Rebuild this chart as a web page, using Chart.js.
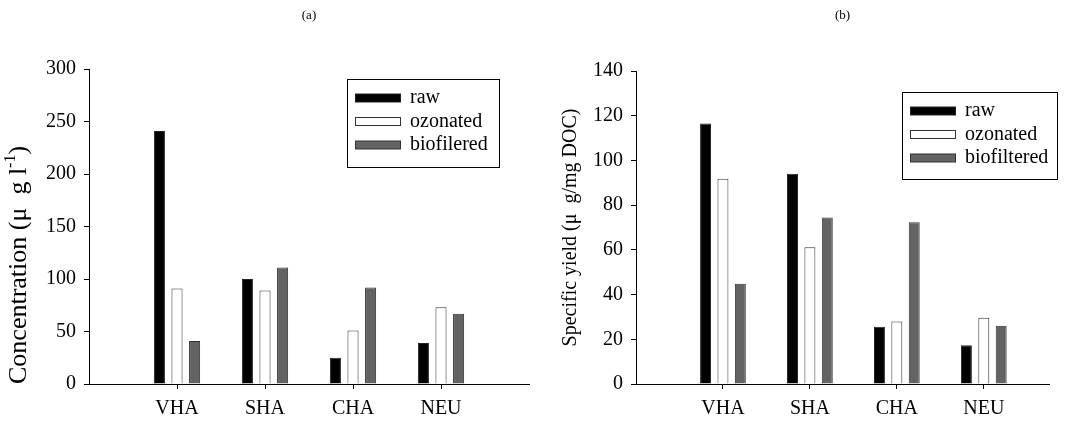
<!DOCTYPE html>
<html>
<head>
<meta charset="utf-8">
<script src="https://cdn.jsdelivr.net/npm/chart.js@4/dist/chart.umd.min.js"></script>
<style>
  html, body { margin: 0; padding: 0; background: #fff; }
  #wrap { position: relative; width: 1067px; height: 425px; }
  canvas { position: absolute; top: 0; }
  #concChart { left: 0; }
  #yieldChart { left: 540px; }
</style>
</head>
<body>
<div id="wrap">
  <canvas id="concChart" width="540" height="425"></canvas>
  <canvas id="yieldChart" width="527" height="425"></canvas>
</div>
<script>
// fractions
const categories = ['VHA', 'SHA', 'CHA', 'NEU'];

// (a) concentration, µg/l
const concLabels = ['raw', 'ozonated', 'biofilered'];
const concRaw = [241, 100, 25, 39];
const concOzonated = [91, 89, 51, 73];
const concBiofiltered = [41, 111, 92, 67];

// (b) specific yield, µg/mg DOC
const yieldLabels = ['raw', 'ozonated', 'biofiltered'];
const yieldRaw = [116.5, 94, 25.6, 17.3];
const yieldOzonated = [91.8, 61.2, 28, 29.6];
const yieldBiofiltered = [44.8, 74.5, 72.4, 26];

const SERIF = '"Liberation Serif", "Times New Roman", serif';
const fills = ['#000000', '#ffffff', '#636363'];
const edges = ['#222222', '#333333', '#333333'];

// panel letter, rotated y title (with optional superscript) and boxed legend
const panelDecor = {
  id: 'panelDecor',
  afterDraw(chart, args, o) {
    const { ctx, chartArea: a } = chart;
    ctx.save();
    ctx.fillStyle = '#000';

    ctx.font = `13px ${SERIF}`;
    ctx.textAlign = 'center';
    ctx.textBaseline = 'middle';
    ctx.fillText(o.panel, (a.left + a.right) / 2, 16);

    // y title
    const big = `${o.yTitleSize}px ${SERIF}`, small = `${Math.round(o.yTitleSize * 0.62)}px ${SERIF}`;
    let total = 0;
    o.yTitle.forEach(p => { ctx.font = p.sup ? small : big; total += ctx.measureText(p.text).width; });
    const start = o.yAlign === 'start' ? a.bottom : (a.top + a.bottom) / 2 + total / 2;
    ctx.save();
    ctx.translate(o.yTitleX, start);
    ctx.rotate(-Math.PI / 2);
    ctx.textAlign = 'left';
    let cx = 0;
    o.yTitle.forEach(p => {
      ctx.font = p.sup ? small : big;
      ctx.fillText(p.text, cx, p.sup ? -o.yTitleSize * 0.32 : 0);
      cx += ctx.measureText(p.text).width;
    });
    ctx.restore();

    // legend
    const L = o.legend;
    ctx.strokeStyle = '#000';
    ctx.lineWidth = 1;
    ctx.strokeRect(L.x + 0.5, L.y + 0.5, L.w, L.h);
    ctx.font = `20px ${SERIF}`;
    ctx.textAlign = 'left';
    chart.data.datasets.forEach((ds, i) => {
      const ry = L.y + 19 + i * 23.5;
      ctx.fillStyle = ds.backgroundColor;
      ctx.fillRect(L.x + 8.5, ry - 4, 45, 8);
      ctx.strokeStyle = ds.borderColor;
      ctx.strokeRect(L.x + 8.5, ry - 4, 45, 8);
      ctx.fillStyle = '#000';
      ctx.fillText(ds.label, L.x + 63, ry);
    });
    ctx.restore();
  }
};

function makeDatasets(labels, series) {
  return series.map((vals, i) => ({
    label: labels[i],
    data: vals.map((v, j) => ({ x: j + 1, y: v })),
    backgroundColor: fills[i],
    borderColor: edges[i],
    borderWidth: 1,
    barPercentage: 0.63,
    categoryPercentage: 0.6
  }));
}

function makeChart(id, cfg) {
  return new Chart(document.getElementById(id), {
    type: 'bar',
    data: { datasets: makeDatasets(cfg.labels, cfg.series) },
    plugins: [panelDecor],
    options: {
      responsive: false,
      animation: false,
      layout: { padding: { top: cfg.top, right: cfg.right, left: 0, bottom: 0 } },
      plugins: {
        legend: { display: false },
        tooltip: { enabled: false },
        panelDecor: cfg.decor
      },
      scales: {
        x: {
          type: 'linear',
          offset: false,
          min: 0,
          max: cfg.xMax,
          afterBuildTicks: s => { s.ticks = categories.map((c, i) => ({ value: i + 1 })); },
          afterFit: s => { s.height = 41; },
          grid: { offset: false, drawOnChartArea: false, drawTicks: true, tickLength: 5, color: '#000' },
          border: { display: true, color: '#000', width: 1 },
          ticks: {
            color: '#000',
            font: { family: SERIF, size: 20 },
            padding: 8,
            maxRotation: 0,
            autoSkip: false,
            callback: v => categories[v - 1] || ''
          }
        },
        y: {
          min: 0,
          max: cfg.yMax,
          afterFit: s => { s.width = cfg.yWidth; },
          grid: { drawOnChartArea: false, drawTicks: true, tickLength: 5, color: '#000' },
          border: { display: true, color: '#000', width: 1 },
          ticks: {
            stepSize: cfg.yStep,
            color: '#000',
            font: { family: SERIF, size: 20 },
            padding: 8
          }
        }
      }
    }
  });
}

makeChart('concChart', {
  labels: concLabels,
  series: [concRaw, concOzonated, concBiofiltered],
  xMax: 5, yMax: 300, yStep: 50,
  top: 69, right: 11, yWidth: 89,
  decor: {
    panel: '(a)',
    yTitle: [{ text: 'Concentration (μ  g l' }, { text: '-1', sup: true }, { text: ')' }],
    yTitleSize: 26,
    yAlign: 'start', yTitleX: 19,
    legend: { x: 347, y: 79, w: 152, h: 88 }
  }
});

makeChart('yieldChart', {
  labels: yieldLabels,
  series: [yieldRaw, yieldOzonated, yieldBiofiltered],
  xMax: 4.75, yMax: 140, yStep: 20,
  top: 71, right: 18, yWidth: 96,
  decor: {
    panel: '(b)',
    yTitle: [{ text: 'Specific yield (μ  g/mg DOC)' }],
    yTitleSize: 20,
    yAlign: 'center', yTitleX: 31,
    legend: { x: 362, y: 92, w: 155, h: 87 }
  }
});
</script>
</body>
</html>
